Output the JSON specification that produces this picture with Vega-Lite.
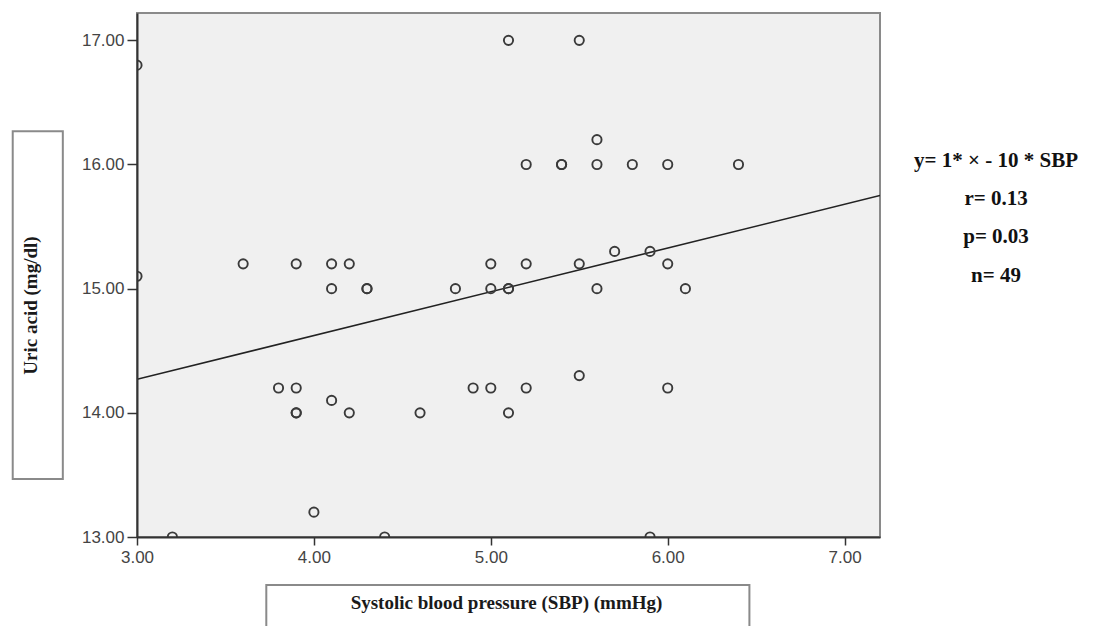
{
  "$schema": "https://vega.github.io/schema/vega-lite/v6.json",
  "width": 743,
  "height": 524,
  "autosize": {"type": "none"},
  "padding": {"left": 137, "top": 13, "right": 215, "bottom": 89},
  "background": "white",
  "config": {"view": {"fill": "#f0f0f0", "stroke": "#8a8a8a", "strokeWidth": 2}},
  "resolve": {"axis": {"x": "independent", "y": "independent"}},
  "datasets": {
    "points": [
      {"sbp": 3.0, "uric": 16.8}, {"sbp": 3.0, "uric": 15.1}, {"sbp": 3.2, "uric": 13.0},
      {"sbp": 3.6, "uric": 15.2}, {"sbp": 3.8, "uric": 14.2}, {"sbp": 3.9, "uric": 15.2},
      {"sbp": 3.9, "uric": 14.2}, {"sbp": 3.9, "uric": 14.0}, {"sbp": 3.9, "uric": 14.0},
      {"sbp": 4.0, "uric": 13.2}, {"sbp": 4.1, "uric": 15.2}, {"sbp": 4.1, "uric": 15.0},
      {"sbp": 4.1, "uric": 14.1}, {"sbp": 4.2, "uric": 15.2}, {"sbp": 4.2, "uric": 14.0},
      {"sbp": 4.3, "uric": 15.0}, {"sbp": 4.3, "uric": 15.0}, {"sbp": 4.4, "uric": 13.0},
      {"sbp": 4.6, "uric": 14.0}, {"sbp": 4.8, "uric": 15.0}, {"sbp": 4.9, "uric": 14.2},
      {"sbp": 5.0, "uric": 15.2}, {"sbp": 5.0, "uric": 15.0}, {"sbp": 5.0, "uric": 14.2},
      {"sbp": 5.1, "uric": 17.0}, {"sbp": 5.1, "uric": 15.0}, {"sbp": 5.1, "uric": 15.0},
      {"sbp": 5.1, "uric": 14.0}, {"sbp": 5.2, "uric": 16.0}, {"sbp": 5.2, "uric": 15.2},
      {"sbp": 5.2, "uric": 14.2}, {"sbp": 5.4, "uric": 16.0}, {"sbp": 5.4, "uric": 16.0},
      {"sbp": 5.5, "uric": 17.0}, {"sbp": 5.5, "uric": 15.2}, {"sbp": 5.5, "uric": 14.3},
      {"sbp": 5.6, "uric": 16.2}, {"sbp": 5.6, "uric": 16.0}, {"sbp": 5.6, "uric": 15.0},
      {"sbp": 5.7, "uric": 15.3}, {"sbp": 5.8, "uric": 16.0}, {"sbp": 5.9, "uric": 15.3},
      {"sbp": 5.9, "uric": 13.0}, {"sbp": 6.0, "uric": 16.0}, {"sbp": 6.0, "uric": 15.2},
      {"sbp": 6.0, "uric": 14.2}, {"sbp": 6.1, "uric": 15.0}, {"sbp": 6.4, "uric": 16.0}
    ],
    "fit": [{"sbp": 3.0, "uric": 14.27}, {"sbp": 7.2, "uric": 15.75}]
  },
  "layer": [
    {
      "data": {"values": [{}]},
      "mark": {"type": "rect", "fill": "white", "stroke": "#8a8a8a", "strokeWidth": 2, "clip": false},
      "encoding": {
        "x": {"datum": 2.2975, "type": "quantitative", "scale": {"domain": [3, 7.2], "nice": false, "zero": false}, "axis": null},
        "x2": {"datum": 2.5807},
        "y": {"datum": 16.2676, "type": "quantitative", "scale": {"domain": [13, 17.22], "nice": false, "zero": false}, "axis": null},
        "y2": {"datum": 13.4668}
      }
    },
    {
      "data": {"values": [{}]},
      "mark": {"type": "rect", "fill": "white", "stroke": "#8a8a8a", "strokeWidth": 2, "clip": false},
      "encoding": {
        "x": {"datum": 3.7309, "type": "quantitative", "axis": null},
        "x2": {"datum": 6.4618},
        "y": {"datum": 12.6137, "type": "quantitative", "axis": null},
        "y2": {"datum": 12.2}
      }
    },
    {
      "data": {"name": "fit"},
      "mark": {"type": "line", "color": "#222222", "strokeWidth": 1.6, "clip": true},
      "encoding": {
        "x": {"field": "sbp", "type": "quantitative", "axis": null},
        "y": {"field": "uric", "type": "quantitative", "axis": null}
      }
    },
    {
      "data": {"name": "points"},
      "mark": {"type": "point", "shape": "circle", "filled": false, "size": 85, "stroke": "#3a3a3a", "strokeWidth": 1.9, "opacity": 1, "clip": true},
      "encoding": {
        "x": {
          "field": "sbp", "type": "quantitative",
          "scale": {"domain": [3, 7.2], "nice": false, "zero": false},
          "axis": {
            "orient": "bottom",
            "title": "Systolic blood pressure (SBP) (mmHg)",
            "values": [3, 4, 5, 6, 7], "format": ".2f", "grid": false, "labelFlush": false,
            "tickSize": 8, "tickWidth": 1.5, "tickColor": "#333333",
            "domainColor": "#333333", "domainWidth": 2,
            "labelPadding": 4, "labelFont": "Liberation Sans", "labelFontSize": 17, "labelColor": "#444444",
            "titleFont": "Liberation Serif", "titleFontWeight": "bold", "titleFontSize": 19, "titleColor": "#1a1a1a",
            "titleX": 369, "titleY": 65, "titleAlign": "center", "titleBaseline": "middle",
            "zindex": 1
          }
        },
        "y": {
          "field": "uric", "type": "quantitative",
          "scale": {"domain": [13, 17.22], "nice": false, "zero": false},
          "axis": {
            "orient": "left",
            "title": "Uric acid  (mg/dl)",
            "values": [13, 14, 15, 16, 17], "format": ".2f", "grid": false, "labelFlush": false,
            "tickSize": 10, "tickWidth": 1.5, "tickColor": "#333333",
            "domainColor": "#333333", "domainWidth": 2,
            "labelPadding": 3, "labelFont": "Liberation Sans", "labelFontSize": 17, "labelColor": "#444444",
            "titleFont": "Liberation Serif", "titleFontWeight": "bold", "titleFontSize": 19, "titleColor": "#1a1a1a",
            "titleAngle": 270, "titleX": -107, "titleY": 292, "titleAlign": "center", "titleBaseline": "middle",
            "zindex": 1
          }
        }
      }
    },
    {
      "data": {"values": [{}]},
      "mark": {
        "type": "text",
        "text": ["y= 1* × - 10 * SBP", "r= 0.13", "p= 0.03", "n= 49"],
        "font": "Liberation Serif", "fontWeight": "bold", "fontSize": 21, "lineHeight": 38.3,
        "align": "center", "baseline": "middle", "color": "#111111", "clip": false
      },
      "encoding": {
        "x": {"datum": 7.856, "type": "quantitative", "axis": null},
        "y": {"datum": 16.03, "type": "quantitative", "axis": null}
      }
    }
  ]
}
